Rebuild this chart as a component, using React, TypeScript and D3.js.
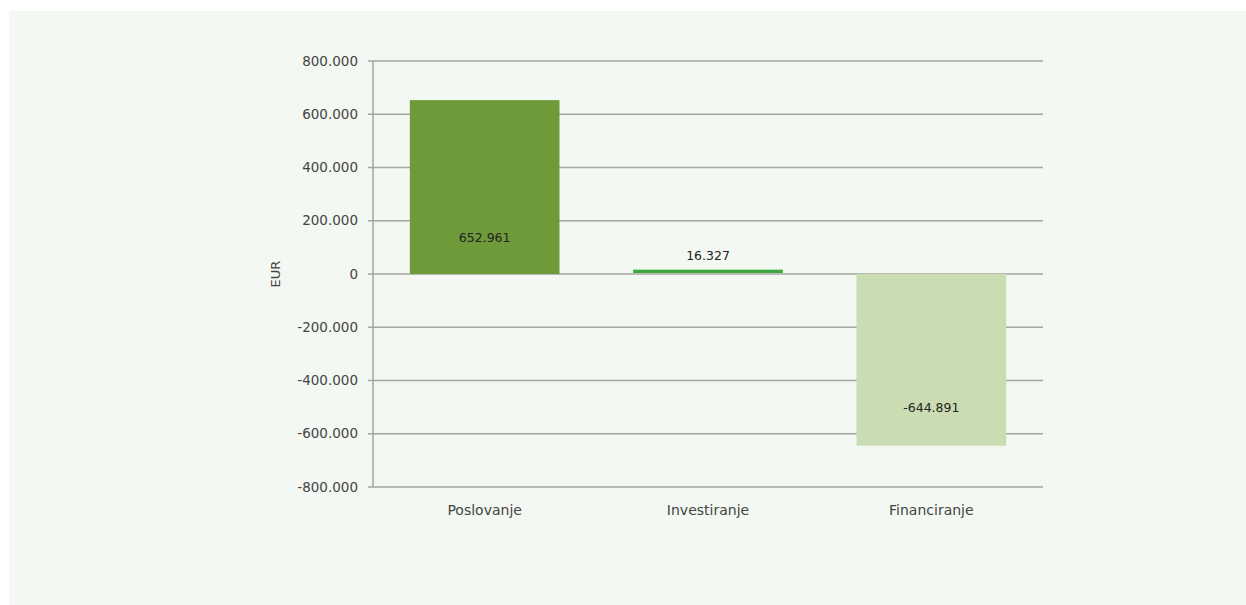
import React from "react";
import * as d3 from "d3";

const categories = ["Poslovanje", "Investiranje", "Financiranje"];
const values = [652961, 16327, -644891];
const valueLabels = ["652.961", "16.327", "-644.891"];
const yTicks = [800000, 600000, 400000, 200000, 0, -200000, -400000, -600000, -800000];
const yTickLabels = ["800.000", "600.000", "400.000", "200.000", "0", "-200.000", "-400.000", "-600.000", "-800.000"];
const barColors = ["#6e9a3a", "#3aa83a", "#cadcb2"];

export default function App() {
  const W = 1246, H = 605;
  const left = 373, right = 1043, top = 61, bottom = 487;
  const x = d3.scaleBand().domain(categories).range([left, right]).paddingInner(0.33).paddingOuter(0.165);
  const y = d3.scaleLinear().domain([-800000, 800000]).range([bottom, top]);
  const font = "'DejaVu Sans', sans-serif";
  return (
    <svg width={W} height={H} style={{ position: "absolute", left: 0, top: 0 }}>
      <rect x={0} y={0} width={W} height={H} fill="#ffffff" />
      <rect x={9} y={11} width={W - 9} height={H - 11} fill="#f3f8f2" />
      {yTicks.map((t, i) => (
        <g key={i}>
          <line x1={left} x2={right} y1={y(t)} y2={y(t)} stroke="#a3a6a3" strokeWidth={1.5} />
          <line x1={left - 5} x2={left} y1={y(t)} y2={y(t)} stroke="#a3a6a3" strokeWidth={1.5} />
          <text x={left - 15} y={y(t)} dy="0.35em" textAnchor="end" fontFamily={font} fontSize={13.5} fill="#444">
            {yTickLabels[i]}
          </text>
        </g>
      ))}
      <line x1={left} x2={left} y1={top} y2={bottom} stroke="#a3a6a3" strokeWidth={1.5} />
      {categories.map((c, i) => {
        const v = values[i];
        const x0 = x(c)!;
        const w = x.bandwidth();
        const y0 = y(Math.max(0, v));
        const h = Math.abs(y(v) - y(0));
        const cx = x0 + w / 2;
        let ly;
        if (i === 0) ly = y(0) - 36;
        else if (i === 1) ly = y(v) - 14;
        else ly = y(v) - 38;
        return (
          <g key={c}>
            {i === 1 ? (
              <rect x={x0} y={y0} width={w} height={Math.max(h - 1, 3)} fill={barColors[i]} />
            ) : (
              <rect x={x0} y={y0} width={w} height={h} fill={barColors[i]} />
            )}
            <text x={cx} y={ly} dy="0.35em" textAnchor="middle" fontFamily={font} fontSize={12.5} fill="#222">
              {valueLabels[i]}
            </text>
            <text x={cx} y={bottom + 23} dy="0.35em" textAnchor="middle" fontFamily={font} fontSize={14} fill="#444">
              {c}
            </text>
          </g>
        );
      })}
      <text transform={`translate(275, ${y(0)}) rotate(-90)`} textAnchor="middle" dy="0.35em" fontFamily={font} fontSize={13} fill="#444">
        EUR
      </text>
    </svg>
  );
}
